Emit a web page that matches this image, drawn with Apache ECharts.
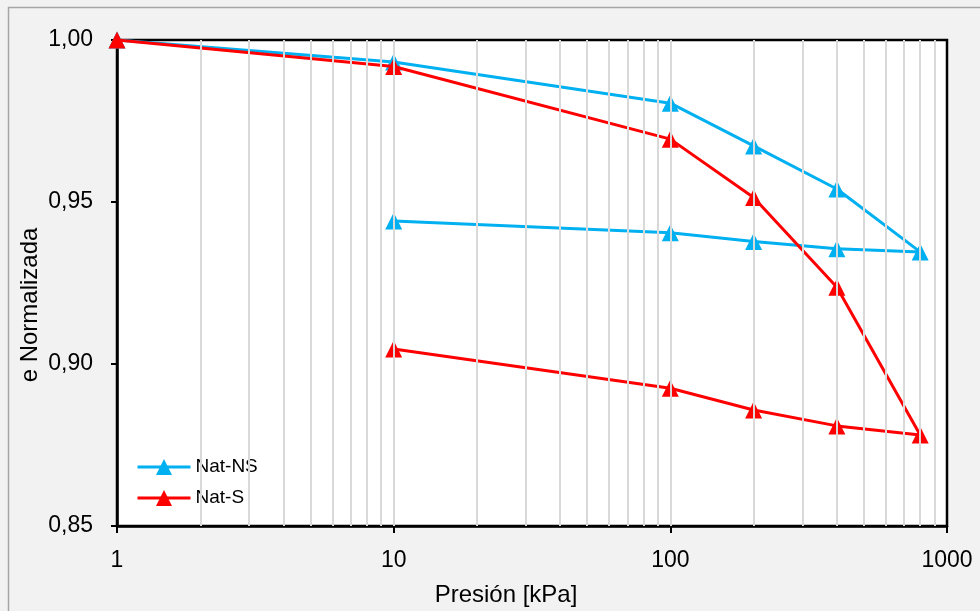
<!DOCTYPE html>
<html><head><meta charset="utf-8">
<script src="https://cdn.jsdelivr.net/npm/echarts@6/dist/echarts.min.js"></script>
<style>html,body{margin:0;padding:0;background:#F2F2F2}#c{width:980px;height:611px}</style>
</head><body><div id="c"></div>
<script>
const pressures = [1, 10, 100, 200, 400, 800, 400, 200, 100, 10];
const natNS = [1.0000, 0.9932, 0.9805, 0.9673, 0.9540, 0.9346, 0.9356, 0.9378, 0.9405, 0.9441];
const natS  = [1.0000, 0.9918, 0.9694, 0.9514, 0.9237, 0.8781, 0.8809, 0.8858, 0.8925, 0.9046];
const seriesNames = ['Nat-NS', 'Nat-S'];
const xGridValues = [2,3,4,5,6,7,8,9,10,20,30,40,50,60,70,80,90,100,200,300,400,500,600,700,800,900];
const xTitle = 'Presión [kPa]';
const yTitle = 'e Normalizada';

const FONT = '"Liberation Sans", Arial, sans-serif';
const pairs = (ys) => pressures.map((p, i) => [p, ys[i]]);

const chart = echarts.init(document.getElementById('c'), null, {renderer: 'canvas'});
chart.setOption({
  animation: false,
  backgroundColor: '#F2F2F2',
  grid: {left: 117, top: 40, right: 33, bottom: 85, show: true,
         backgroundColor: '#FFFFFF', borderColor: '#000000', borderWidth: 2.5},
  legend: {
    data: seriesNames, orient: 'vertical', left: 130, top: 443,
    backgroundColor: '#FFFFFF', padding: [14, 8, 8, 6],
    itemWidth: 53, itemHeight: 20, itemGap: 11,
    lineStyle: {width: 3},
    textStyle: {fontSize: 19, color: '#000', fontFamily: FONT, lineHeight: 20}
  },
  xAxis: {
    type: 'log', logBase: 10, min: 1, max: 1000,
    axisLine: {lineStyle: {color: '#000', width: 2.5}},
    axisTick: {show: true, length: 7, lineStyle: {color: '#000', width: 2}},
    axisLabel: {fontSize: 23, color: '#000', fontFamily: FONT, margin: 23,
                formatter: (v) => String(Math.round(v))},
    splitLine: {show: false}, minorTick: {show: false}
  },
  yAxis: {
    type: 'value', min: 0.85, max: 1.00, interval: 0.05,
    axisLine: {show: true, lineStyle: {color: '#000', width: 2.5}},
    axisTick: {show: true, length: 6, lineStyle: {color: '#000', width: 2}},
    axisLabel: {fontSize: 23, color: '#000', fontFamily: FONT, margin: 24,
                formatter: (v) => v.toFixed(2).replace('.', ',')},
    splitLine: {show: false}
  },
  graphic: [
    {type: 'rect', shape: {x: 8.5, y: 7.5, width: 1000, height: 700}, silent: true,
     style: {fill: 'none', stroke: '#A6A6A6', lineWidth: 1.5}, z: 0},
    {type: 'text', x: 506, y: 595, silent: true,
     style: {text: xTitle, fill: '#000', font: '24px ' + FONT, align: 'center', verticalAlign: 'middle'}},
    {type: 'text', x: 30, y: 305, rotation: Math.PI / 2, silent: true,
     style: {text: yTitle, fill: '#000', font: '24px ' + FONT, align: 'center', verticalAlign: 'middle'}}
  ],
  series: [
    {name: 'grid', type: 'line', data: [], z: 1, silent: true,
     markLine: {silent: true, symbol: ['none', 'none'], label: {show: false},
                lineStyle: {color: '#D9D9D9', width: 2, type: 'solid'},
                data: xGridValues.map(v => ({xAxis: v}))}},
    {name: seriesNames[0], type: 'line', data: pairs(natNS), z: 3,
     symbol: 'triangle', symbolSize: 17, color: '#00B0F0',
     lineStyle: {color: '#00B0F0', width: 3}, itemStyle: {color: '#00B0F0'}},
    {name: seriesNames[1], type: 'line', data: pairs(natS), z: 4,
     symbol: 'triangle', symbolSize: 17, color: '#FF0000',
     lineStyle: {color: '#FF0000', width: 3}, itemStyle: {color: '#FF0000'}}
  ]
});
</script></body></html>
